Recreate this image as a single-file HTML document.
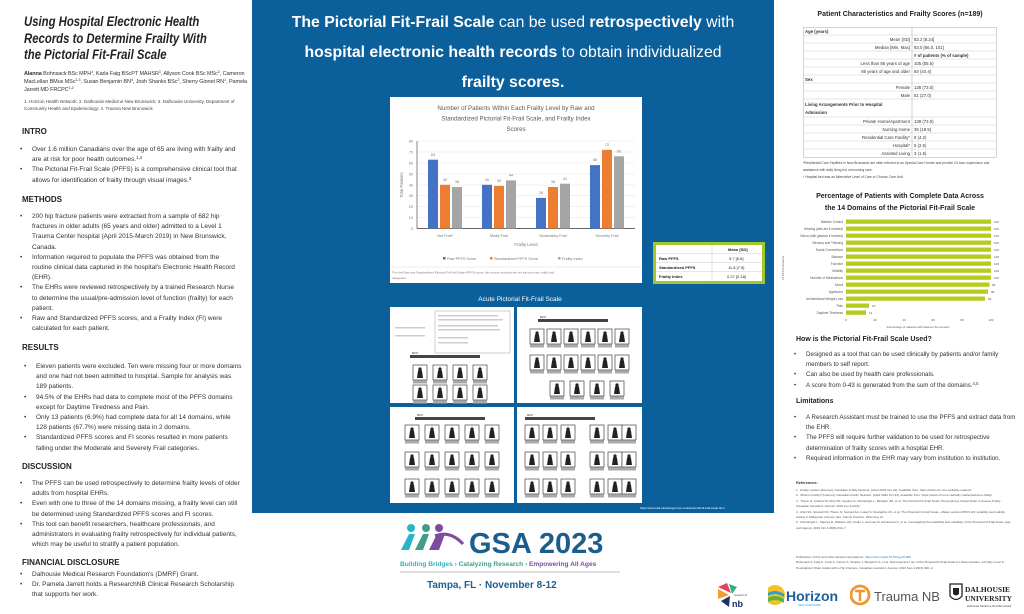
<!DOCTYPE html>
<html><head><meta charset="utf-8"><style>
*{margin:0;padding:0;box-sizing:border-box}
body{width:1024px;height:614px;background:#fff;position:relative;overflow:hidden;font-family:"Liberation Sans",sans-serif;color:#333}
.a{position:absolute}
.t{font-size:6.2px;line-height:10.2px;color:#333}
.l{font-size:6.5px}
.h{font-size:8px;font-weight:bold;color:#222}
ul{list-style:none}
li{position:relative;padding-left:0}
li:before{content:"•";position:absolute;left:-12px}
sup{font-size:70%;line-height:0;vertical-align:baseline;position:relative;top:-2px}
</style></head><body>

<!-- LEFT COLUMN -->
<div class="a" style="left:24px;top:14px;white-space:nowrap;font-size:14.2px;line-height:16.5px;font-weight:bold;font-style:italic;color:#222;transform:scaleX(0.8);transform-origin:0 0">Using Hospital Electronic Health<br>Records to Determine Frailty With<br>the Pictorial Fit-Frail Scale</div>
<div class="a" style="left:24px;top:70px;width:224px;font-size:5.5px;line-height:8.2px;color:#333;letter-spacing:-0.1px"><b>Alanna</b> Bohnsack BSc MPH<sup>1</sup>, Karla Faig BScPT MAHSR<sup>1</sup>, Allyson Cook BSc MSc<sup>2</sup>, Cameron MacLellan BMus MSc<sup>1,3</sup>, Susan Benjamin BN<sup>4</sup>, Josh Shanks BSc<sup>2</sup>, Sherry Gionet RN<sup>1</sup>, Pamela Jarrett MD FRCPC<sup>1,2</sup></div>
<div class="a" style="left:24px;top:98px;width:224px;font-size:4.5px;line-height:7.4px;color:#444">1. Horizon Health Network; 2. Dalhousie Medicine New Brunswick; 3. Dalhousie University, Department of Community Health and Epidemiology; 4. Trauma New Brunswick</div>

<div class="a h" style="left:22px;top:127px">INTRO</div>
<ul class="a t l" style="left:32px;top:145px;width:208px">
<li>Over 1.6 million Canadians over the age of 65 are living with frailty and are at risk for poor health outcomes.<sup>1,2</sup></li>
<li>The Pictorial Fit-Frail Scale (PFFS) is a comprehensive clinical tool that allows for identification of frailty through visual images.<sup>3</sup></li></ul>

<div class="a h" style="left:22px;top:195px">METHODS</div>
<ul class="a t l" style="left:32px;top:212px;width:208px">
<li>200 hip fracture patients were extracted from a sample of 682 hip fractures in older adults (65 years and older) admitted to a Level 1 Trauma Center hospital (April 2015-March 2019) in New Brunswick, Canada.</li>
<li>Information required to populate the PFFS was obtained from the routine clinical data captured in the hospital's Electronic Health Record (EHR).</li>
<li>The EHRs were reviewed retrospectively by a trained Research Nurse to determine the usual/pre-admission level of function (frailty) for each patient.</li>
<li>Raw and Standardized PFFS scores, and a Frailty Index (FI) were calculated for each patient.</li></ul>

<div class="a h" style="left:22px;top:343px">RESULTS</div>
<ul class="a t l" style="left:36px;top:362px;width:206px">
<li>Eleven patients were excluded. Ten were missing four or more domains and one had not been admitted to hospital. Sample for analysis was 189 patients.</li>
<li>94.5% of the EHRs had data to complete most of the PFFS domains except for Daytime Tiredness and Pain.</li>
<li>Only 13 patients (6.9%) had complete data for all 14 domains, while 128 patients (67.7%) were missing data in 2 domains.</li>
<li>Standardized PFFS scores and FI scores resulted in more patients falling under the Moderate and Severely Frail categories.</li></ul>

<div class="a h" style="left:22px;top:462px">DISCUSSION</div>
<ul class="a t l" style="left:32px;top:479px;width:208px">
<li>The PFFS can be used retrospectively to determine frailty levels of older adults from hospital EHRs.</li>
<li>Even with one to three of the 14 domains missing, a frailty level can still be determined using Standardized PFFS scores and FI scores.</li>
<li>This tool can benefit researchers, healthcare professionals, and administrators in evaluating frailty retrospectively for individual patients, which may be useful to stratify a patient population.</li></ul>

<div class="a h" style="left:22px;top:558px">FINANCIAL DISCLOSURE</div>
<ul class="a t l" style="left:32px;top:570px;width:208px">
<li>Dalhousie Medical Research Foundation's (DMRF) Grant.</li>
<li>Dr. Pamela Jarrett holds a ResearchNB Clinical Research Scholarship that supports her work.</li></ul>

<!-- CENTER BLUE PANEL -->
<div class="a" style="left:252px;top:0;width:522px;height:513px;background:#0b5f9b"></div>
<div class="a" style="left:252px;top:8px;width:522px;text-align:center;color:#fff;font-size:15.8px;line-height:30px">
<b>The Pictorial Fit-Frail Scale</b> can be used <b>retrospectively</b> with<br><b>hospital electronic health records</b> to obtain individualized<br><b>frailty scores.</b></div>

<svg class="a" style="left:390px;top:97px" width="252" height="186" viewBox="390 97 252 186" font-family="Liberation Sans, sans-serif">
<rect x="390" y="97" width="252" height="186" fill="#fff"/>
<g font-size="6.2" fill="#595959" text-anchor="middle">
<text x="516" y="110">Number of Patients Within Each Frailty Level by Raw and</text>
<text x="516" y="120.5">Standardized Pictorial Fit-Frail Scale, and Frailty Index</text>
<text x="516" y="131">Scores</text></g>
<g stroke="#e3e3e3" stroke-width="0.5">
<line x1="417" x2="635" y1="141" y2="141"/><line x1="417" x2="635" y1="152" y2="152"/><line x1="417" x2="635" y1="163" y2="163"/><line x1="417" x2="635" y1="174" y2="174"/><line x1="417" x2="635" y1="185" y2="185"/><line x1="417" x2="635" y1="195.5" y2="195.5"/><line x1="417" x2="635" y1="206.5" y2="206.5"/><line x1="417" x2="635" y1="217.5" y2="217.5"/></g>
<line x1="417" x2="635" y1="228.5" y2="228.5" stroke="#333" stroke-width="0.7"/>
<line x1="417" x2="417" y1="141" y2="228.5" stroke="#333" stroke-width="0.6"/>
<g font-size="3.8" fill="#777" text-anchor="end">
<text x="413" y="142.5">80</text><text x="413" y="153.5">70</text><text x="413" y="164.5">60</text><text x="413" y="175.5">50</text><text x="413" y="186.5">40</text><text x="413" y="197">30</text><text x="413" y="208">20</text><text x="413" y="219">10</text><text x="413" y="230">0</text></g>
<text x="403" y="185" font-size="4.2" fill="#777" text-anchor="middle" transform="rotate(-90 403 185)">Total Patients</text>
<g>
<rect x="428" y="159.7" width="10" height="68.8" fill="#4472c4"/><rect x="440" y="184.8" width="10" height="43.7" fill="#ed7d31"/><rect x="452" y="187" width="10" height="41.5" fill="#a5a5a5"/>
<rect x="482" y="184.8" width="10" height="43.7" fill="#4472c4"/><rect x="494" y="185.9" width="10" height="42.6" fill="#ed7d31"/><rect x="506" y="180.4" width="10" height="48.1" fill="#a5a5a5"/>
<rect x="536" y="197.9" width="10" height="30.6" fill="#4472c4"/><rect x="548" y="187" width="10" height="41.5" fill="#ed7d31"/><rect x="560" y="183.7" width="10" height="44.8" fill="#a5a5a5"/>
<rect x="590" y="165.1" width="10" height="63.4" fill="#4472c4"/><rect x="602" y="149.8" width="10" height="78.7" fill="#ed7d31"/><rect x="614" y="156.3" width="10" height="72.2" fill="#a5a5a5"/></g>
<g font-size="3.8" fill="#777" text-anchor="middle">
<text x="433" y="156">63</text><text x="445" y="181">40</text><text x="457" y="183">38</text>
<text x="487" y="181">40</text><text x="499" y="182">39</text><text x="511" y="176.5">44</text>
<text x="541" y="194">28</text><text x="553" y="183">38</text><text x="565" y="180">41</text>
<text x="595" y="161">58</text><text x="607" y="146">72</text><text x="619" y="152.5">66</text>
<text x="445" y="237">Not Frail*</text><text x="499" y="237">Mildly Frail</text><text x="553" y="237">Moderately Frail</text><text x="607" y="237">Severely Frail</text></g>
<text x="526" y="246" font-size="4.3" fill="#777" text-anchor="middle">Frailty Level</text>
<g font-size="3.8" fill="#777">
<rect x="443" y="257" width="2.5" height="2.5" fill="#4472c4"/><text x="447" y="260">Raw PFFS Score</text>
<rect x="490" y="257" width="2.5" height="2.5" fill="#ed7d31"/><text x="494" y="260">Standardized PFFS Score</text>
<rect x="558" y="257" width="2.5" height="2.5" fill="#a5a5a5"/><text x="562" y="260">Frailty Index</text></g>
<line x1="391" x2="641" y1="267" y2="267" stroke="#ddd" stroke-width="0.5"/>
<text x="392" y="273.5" font-size="3" fill="#777">*For the Raw and Standardized Pictorial Fit-Frail Scale (PFFS) score, this section includes the not frail and very mildly frail</text>
<text x="392" y="279" font-size="3" fill="#777">categories.</text>
</svg>

<!-- mean table -->
<div class="a" style="left:653px;top:242px;width:112px;height:42px;border:3px solid #a4c62c;background:#fff"></div>
<svg class="a" style="left:656px;top:245px" width="106" height="36" font-family="Liberation Sans, sans-serif">
<g stroke="#ccc" stroke-width="0.5"><line x1="56" x2="56" y1="0" y2="36"/><line x1="0" x2="106" y1="8.5" y2="8.5"/><line x1="0" x2="106" y1="17.5" y2="17.5"/><line x1="0" x2="106" y1="26.5" y2="26.5"/></g>
<g font-size="4" fill="#222"><text x="72" y="6" font-weight="bold">Mean [SD]</text>
<text x="3" y="15" font-weight="bold">Raw PFFS</text><text x="3" y="24" font-weight="bold">Standardized PFFS</text><text x="3" y="33" font-weight="bold">Frailty Index</text>
<text x="73" y="15">9.7 [6.6]</text><text x="72" y="24">11.8 [7.9]</text><text x="71" y="33">0.27 [0.18]</text></g></svg>

<div class="a" style="left:380px;top:296px;width:280px;text-align:center;color:#fff;font-size:6.5px">Acute Pictorial Fit-Frail Scale</div>
<svg class="a" style="left:390px;top:307px" width="252" height="198">
<defs><g id="ic"><rect width="14" height="15" fill="#fff" stroke="#444" stroke-width="0.7"/><path d="M4 13 L5 6 Q7 2 9 6 L10 13Z" fill="#222"/><circle cx="7" cy="4" r="1.6" fill="#222"/><rect y="15.5" width="14" height="3" fill="#aaa"/></g>
<g id="arr"><rect width="70" height="3" fill="#444"/><text x="2" y="-1" font-size="2.5" fill="#444">BEST</text></g></defs>
<rect x="0" y="0" width="124" height="96" fill="#fff"/><rect x="127" y="0" width="125" height="96" fill="#fff"/>
<rect x="0" y="100" width="124" height="96" fill="#fff"/><rect x="127" y="100" width="125" height="96" fill="#fff"/>
<g fill="#ccc"><rect x="45" y="4" width="75" height="42" fill="none" stroke="#888" stroke-width="0.4"/>
<rect x="48" y="8" width="60" height="1.5"/><rect x="48" y="12" width="65" height="1.5"/><rect x="48" y="18" width="60" height="1.5"/><rect x="48" y="22" width="62" height="1.5"/><rect x="48" y="30" width="30" height="1.5"/><rect x="48" y="35" width="30" height="1.5"/>
<rect x="5" y="20" width="30" height="1.5"/><rect x="5" y="28" width="30" height="1.5"/></g>
<use href="#arr" x="20" y="48"/><use href="#ic" x="23" y="58"/><use href="#ic" x="43" y="58"/><use href="#ic" x="63" y="58"/><use href="#ic" x="83" y="58"/>
<use href="#ic" x="23" y="78"/><use href="#ic" x="43" y="78"/><use href="#ic" x="63" y="78"/><use href="#ic" x="83" y="78"/>
<use href="#arr" x="148" y="12"/>
<use href="#ic" x="140" y="22"/><use href="#ic" x="157" y="22"/><use href="#ic" x="174" y="22"/><use href="#ic" x="191" y="22"/><use href="#ic" x="208" y="22"/><use href="#ic" x="225" y="22"/>
<use href="#ic" x="140" y="48"/><use href="#ic" x="157" y="48"/><use href="#ic" x="174" y="48"/><use href="#ic" x="191" y="48"/><use href="#ic" x="208" y="48"/><use href="#ic" x="225" y="48"/>
<use href="#ic" x="160" y="74"/><use href="#ic" x="180" y="74"/><use href="#ic" x="200" y="74"/><use href="#ic" x="220" y="74"/>
<use href="#arr" x="25" y="110"/>
<use href="#ic" x="15" y="118"/><use href="#ic" x="35" y="118"/><use href="#ic" x="55" y="118"/><use href="#ic" x="75" y="118"/><use href="#ic" x="95" y="118"/>
<use href="#ic" x="15" y="145"/><use href="#ic" x="35" y="145"/><use href="#ic" x="55" y="145"/><use href="#ic" x="75" y="145"/><use href="#ic" x="95" y="145"/>
<use href="#ic" x="15" y="172"/><use href="#ic" x="35" y="172"/><use href="#ic" x="55" y="172"/><use href="#ic" x="75" y="172"/><use href="#ic" x="95" y="172"/>
<use href="#arr" x="135" y="110"/>
<use href="#ic" x="135" y="118"/><use href="#ic" x="153" y="118"/><use href="#ic" x="171" y="118"/><use href="#ic" x="200" y="118"/><use href="#ic" x="218" y="118"/><use href="#ic" x="232" y="118"/>
<use href="#ic" x="135" y="145"/><use href="#ic" x="153" y="145"/><use href="#ic" x="171" y="145"/><use href="#ic" x="200" y="145"/><use href="#ic" x="218" y="145"/><use href="#ic" x="232" y="145"/>
<use href="#ic" x="135" y="172"/><use href="#ic" x="153" y="172"/><use href="#ic" x="171" y="172"/><use href="#ic" x="200" y="172"/><use href="#ic" x="218" y="172"/><use href="#ic" x="232" y="172"/>
</svg>
<div class="a" style="left:640px;top:506px;font-size:3px;color:#fff">https://www.dal.ca/sites/gmr/our-tools/pictorial-fit-frail-scale.html</div>

<!-- GSA logo -->
<svg class="a" style="left:395px;top:522px" width="260" height="90" font-family="Liberation Sans, sans-serif">
<circle cx="16" cy="6" r="4" fill="#2ab3c9"/><circle cx="31" cy="6" r="4" fill="#3f9d8a"/><circle cx="44" cy="6" r="4" fill="#7d4ca0"/>
<path d="M6 28 L14 12 L20 12 L14 28Z" fill="#2ab3c9"/><path d="M20 28 L28 12 L34 12 L28 28Z" fill="#3f9d8a"/><path d="M34 28 L42 12 L50 12 L44 28Z" fill="#7d4ca0"/>
<path d="M40 14 Q55 8 68 22" stroke="#7d4ca0" stroke-width="3" fill="none"/>
<text x="74" y="31" font-size="29" font-weight="bold" fill="#1b5e8e">GSA 2023</text>
<text x="5" y="44" font-size="6.6" font-weight="bold" fill="#2ab3c9">Building Bridges › <tspan fill="#3f9d8a">Catalyzing Research</tspan> › <tspan fill="#7d4ca0">Empowering All Ages</tspan></text>
<line x1="5" x2="225" y1="50" y2="50" stroke="#aaa" stroke-width="0.7"/>
<text x="32" y="66" font-size="10" font-weight="bold" fill="#1b5e8e">Tampa, FL  ·  November 8-12</text></svg>

<!-- bottom logos -->
<svg class="a" style="left:715px;top:583px" width="35" height="26">
<path d="M3 4 L12 0 L16 10Z" fill="#e3405b"/><path d="M3 6 L14 12 L3 16Z" fill="#f39c32"/><path d="M6 18 L15 13 L14 24Z" fill="#1b2f6b"/><path d="M14 1 L22 4 L17 11Z" fill="#2eb27c"/>
<text x="17" y="24" font-size="9" font-weight="bold" fill="#1b2f6b" font-family="Liberation Sans">nb</text><text x="19" y="13" font-size="2.5" fill="#444">research nb</text></svg>
<svg class="a" style="left:768px;top:582px" width="72" height="26" font-family="Liberation Sans, sans-serif">
<circle cx="7" cy="13" r="10" fill="#f5c12a"/><path d="M-2 12 Q7 6 16 12 L16 15 Q7 9 -2 15Z" fill="#2a9fd8"/><path d="M-2 17 Q7 11 16 17 L16 21 Q7 15 -2 21Z" fill="#5bb544"/>
<text x="18" y="19" font-size="14" font-weight="bold" fill="#1b5e9e">Horizon</text><text x="30" y="24" font-size="2.5" fill="#2a9fd8">HEALTH NETWORK</text></svg>
<svg class="a" style="left:850px;top:582px" width="90" height="26" font-family="Liberation Sans, sans-serif">
<circle cx="10" cy="13" r="9" fill="none" stroke="#f0962b" stroke-width="2.8"/><path d="M5 9 H15 M10 9 V19" stroke="#f0962b" stroke-width="2.5"/>
<text x="24" y="19" font-size="13" fill="#555">Trauma NB</text></svg>
<svg class="a" style="left:948px;top:582px" width="72" height="28" font-family="Liberation Serif, serif">
<path d="M2 2 H14 V14 Q8 21 2 14Z" fill="none" stroke="#222" stroke-width="1.3"/><path d="M5 6 H11 V12 Q8 15 5 12Z" fill="#222"/>
<text x="17" y="10" font-size="7.5" font-weight="bold" fill="#222">DALHOUSIE</text><text x="17" y="19" font-size="7.5" font-weight="bold" fill="#222">UNIVERSITY</text>
<text x="19" y="25" font-size="2.8" fill="#444" font-family="Liberation Sans">Dalhousie Medicine New Brunswick</text></svg>

<!-- RIGHT COLUMN -->
<div class="a" style="left:776px;top:11px;width:248px;text-align:center;font-size:7px;font-weight:bold;color:#222">Patient Characteristics and Frailty Scores (n=189)</div>
<svg class="a" style="left:803px;top:27px" width="195" height="132" font-family="Liberation Sans, sans-serif">
<rect x="0.3" y="0.3" width="193" height="130" fill="none" stroke="#aaa" stroke-width="0.5"/>
<line x1="109" x2="109" y1="0" y2="130" stroke="#aaa" stroke-width="0.5"/>
<g stroke="#ccc" stroke-width="0.5">
<line x1="0" x2="193" y1="8" y2="8"/><line x1="0" x2="193" y1="16" y2="16"/><line x1="0" x2="193" y1="24" y2="24"/><line x1="0" x2="193" y1="32" y2="32"/><line x1="0" x2="193" y1="40" y2="40"/><line x1="0" x2="193" y1="48" y2="48"/><line x1="0" x2="193" y1="56" y2="56"/><line x1="0" x2="193" y1="64" y2="64"/><line x1="0" x2="193" y1="72" y2="72"/><line x1="0" x2="193" y1="90" y2="90"/><line x1="0" x2="193" y1="98" y2="98"/><line x1="0" x2="193" y1="106" y2="106"/><line x1="0" x2="193" y1="114" y2="114"/><line x1="0" x2="193" y1="122" y2="122"/></g>
<g font-size="4.3" fill="#333">
<text x="2" y="6" font-weight="bold">Age (years)</text>
<text x="107" y="14" text-anchor="end">Mean [SD]</text><text x="111" y="14">83.2 [8.24]</text>
<text x="107" y="22" text-anchor="end">Median [Min, Max]</text><text x="111" y="22">83.0 [66.0, 101]</text>
<text x="111" y="30" font-weight="bold"># of patients (% of sample)</text>
<text x="107" y="38" text-anchor="end">Less than 85 years of age</text><text x="111" y="38">105 (55.6)</text>
<text x="107" y="46" text-anchor="end">85 years of age and older</text><text x="111" y="46">84 (44.4)</text>
<text x="2" y="54" font-weight="bold">Sex</text>
<text x="107" y="62" text-anchor="end">Female</text><text x="111" y="62">138 (73.0)</text>
<text x="107" y="70" text-anchor="end">Male</text><text x="111" y="70">51 (27.0)</text>
<text x="2" y="79" font-weight="bold">Living Arrangements Prior to Hospital</text><text x="2" y="87" font-weight="bold">Admission</text>
<text x="107" y="96" text-anchor="end">Private Home/Apartment</text><text x="111" y="96">138 (73.0)</text>
<text x="107" y="104" text-anchor="end">Nursing Home</text><text x="111" y="104">35 (18.5)</text>
<text x="107" y="112" text-anchor="end">Residential Care Facility*</text><text x="111" y="112">8 (4.2)</text>
<text x="107" y="120" text-anchor="end">Hospital*</text><text x="111" y="120">5 (2.6)</text>
<text x="107" y="128" text-anchor="end">Assisted Living</text><text x="111" y="128">3 (1.6)</text></g></svg>
<div class="a" style="left:803px;top:160px;width:200px;font-size:3.3px;line-height:6.8px;color:#444">*Residential Care Facilities in New Brunswick are often referred to as Special Care Homes and provide 24-hour supervision and assistance with daily living but not nursing care.<br>* Hospital bed was an Alternative Level of Care or Chronic Care Unit.</div>

<div class="a" style="left:776px;top:191px;width:248px;text-align:center;font-size:7px;line-height:12px;font-weight:bold;color:#222">Percentage of Patients with Complete Data Across<br>the 14 Domains of the Pictorial Fit-Frail Scale</div>
<svg class="a" style="left:776px;top:218px" width="248" height="116" font-family="Liberation Sans, sans-serif">
<g font-size="3.2" fill="#555" text-anchor="end">
<text x="67" y="5">Bladder Control</text><text x="67" y="12">Hearing (with aid if needed)</text><text x="67" y="19">Vision (with glasses if needed)</text><text x="67" y="26">Memory and Thinking</text><text x="67" y="33">Social Connections</text><text x="67" y="40">Balance</text><text x="67" y="47">Function</text><text x="67" y="54">Mobility</text><text x="67" y="61">Number of Medications</text><text x="67" y="68">Mood</text><text x="67" y="75">Agression</text><text x="67" y="82">Unintentional Weight Loss</text><text x="67" y="89">Pain</text><text x="67" y="96">Daytime Tiredness</text></g>
<g fill="#b5cc1f">
<rect x="70" y="1.5" width="145" height="4.3"/><rect x="70" y="8.5" width="145" height="4.3"/><rect x="70" y="15.5" width="145" height="4.3"/><rect x="70" y="22.5" width="145" height="4.3"/><rect x="70" y="29.5" width="145" height="4.3"/><rect x="70" y="36.5" width="145" height="4.3"/><rect x="70" y="43.5" width="145" height="4.3"/><rect x="70" y="50.5" width="145" height="4.3"/><rect x="70" y="57.5" width="145" height="4.3"/><rect x="70" y="64.5" width="143.5" height="4.3"/><rect x="70" y="71.5" width="142" height="4.3"/><rect x="70" y="78.5" width="139" height="4.3"/><rect x="70" y="85.5" width="23" height="4.3"/><rect x="70" y="92.5" width="20" height="4.3"/></g>
<g font-size="3" fill="#555">
<text x="218" y="5">100</text><text x="218" y="12">100</text><text x="218" y="19">100</text><text x="218" y="26">100</text><text x="218" y="33">100</text><text x="218" y="40">100</text><text x="218" y="47">100</text><text x="218" y="54">100</text><text x="218" y="61">100</text><text x="216" y="68">99</text><text x="215" y="75">98</text><text x="212" y="82">96</text><text x="96" y="89">16</text><text x="93" y="96">14</text></g>
<g font-size="3" fill="#555" text-anchor="middle"><text x="70" y="103">0</text><text x="99" y="103">20</text><text x="128" y="103">40</text><text x="157" y="103">60</text><text x="186" y="103">80</text><text x="215" y="103">100</text>
<text x="142" y="110">Percentage of patients with data for the domain</text></g>
<text x="8" y="50" font-size="3" fill="#555" text-anchor="middle" transform="rotate(-90 8 50)">14 PFFS domains</text></svg>

<div class="a" style="left:796px;top:336px;font-size:7px;font-weight:bold;color:#222">How is the Pictorial Fit-Frail Scale Used?</div>
<ul class="a t" style="left:806px;top:350px;width:210px">
<li>Designed as a tool that can be used clinically by patients and/or family members to self report.</li>
<li>Can also be used by health care professionals.</li>
<li>A score from 0-43 is generated from the sum of the domains.<sup>4,5</sup></li></ul>
<div class="a" style="left:796px;top:398px;font-size:7px;font-weight:bold;color:#222">Limitations</div>
<ul class="a t" style="left:806px;top:413px;width:210px">
<li>A Research Assistant must be trained to use the PFFS and extract data from the EHR.</li>
<li>The PFFS will require further validation to be used for retrospective determination of frailty scores with a hospital EHR.</li>
<li>Required information in the EHR may vary from institution to institution.</li></ul>
<div class="a" style="left:796px;top:481px;font-size:3.8px;font-weight:bold;color:#333">References:</div>
<div class="a" style="left:796px;top:488px;width:215px;font-size:3.1px;line-height:5.4px;color:#555">
1.&nbsp; Frailty matters [Internet]. Canadian Frailty Network. [cited 2022 Oct 24]. Available from: https://www.cfn-nce.ca/frailty-matters/<br>
2.&nbsp; What is Frailty? [Internet]. Canadian Frailty Network. [cited 2022 Oct 24]. Available from: https://www.cfn-nce.ca/frailty-matters/what-is-frailty/<br>
3.&nbsp; Theou O, Andrew M, Ahip SS, Squires E, McGarrigle L, Blodgett JM, et al. The Pictorial Fit-Frail Scale: Developing a Visual Scale to Assess Frailty. Canadian Geriatrics Journal. 2019 Jun 4;22(2).<br>
4.&nbsp; Ahip SS, Ghazali SS, Theou O, Samad AA, Lukas S, Mustapha UK, et al. The Pictorial Fit-Frail Scale—Malay version (PFFS-M): reliability and validity testing in Malaysian primary care. Family Practice. 2022 Aug 11.<br>
5.&nbsp; McGarrigle L, Squires E, Wallace LM, Godin J, Gorman M, Rockwood K, et al. Investigating the feasibility and reliability of the Pictorial Fit-Frail Scale. Age and Ageing. 2019 Oct 1;48(6):832–7.</div>
<div class="a" style="left:796px;top:555px;width:215px;font-size:3.1px;line-height:5.4px;color:#555">Publication of this work after abstract acceptance: <span style="color:#2a7fc0">https://doi.org/10.5770/cgj.26.689</span><br>Bohnsack A, Faig K, Cook A, Gionet S, Shanks J, Benjamin S, et al. Retrospective Use of the Pictorial Fit-Frail Scale for Determination of Frailty Level in Hospitalized Older Adults with a Hip Fracture. Canadian Geriatrics Journal. 2023 Sep 1;26(3):400–4.</div>
</body></html>
